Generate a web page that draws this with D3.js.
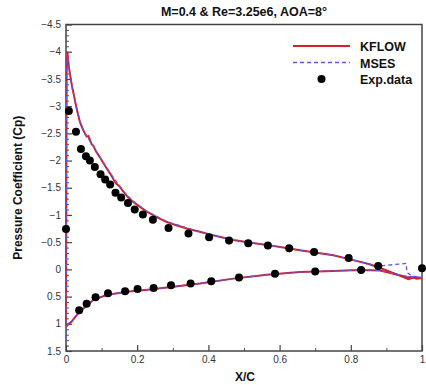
<!DOCTYPE html>
<html>
<head>
<meta charset="utf-8">
<script src="https://cdn.jsdelivr.net/npm/d3@7"></script>
<style>
  body { margin: 0; background: #fff; }
  svg { font-family: "Liberation Sans", Arial, sans-serif; }
</style>
</head>
<body>
<div id="chart"></div>
<script>
// KFLOW upper surface [x/c, Cp]
const kflowUpper = [
    [0, 1.0], [0.0005, 0], [0.001, -1.5], [0.0015, -3.0], [0.002, -3.85], [0.004, -4.0],
    [0.008, -3.72], [0.016, -3.4], [0.03, -2.95], [0.039, -2.71], [0.047, -2.58],
    [0.053, -2.5], [0.058, -2.44], [0.063, -2.45], [0.072, -2.3], [0.077, -2.27],
    [0.085, -2.16], [0.096, -2.05], [0.11, -1.9], [0.124, -1.76], [0.14, -1.58],
    [0.15, -1.53], [0.161, -1.43], [0.175, -1.32], [0.189, -1.24], [0.21, -1.14],
    [0.227, -1.06], [0.255, -0.96], [0.283, -0.87], [0.31, -0.81], [0.339, -0.75],
    [0.376, -0.69], [0.404, -0.64], [0.47, -0.54], [0.52, -0.49], [0.564, -0.45],
    [0.61, -0.4], [0.657, -0.35], [0.70, -0.31], [0.751, -0.26], [0.807, -0.17],
    [0.85, -0.1], [0.877, -0.04], [0.92, 0.07], [0.962, 0.18], [0.975, 0.15],
    [0.985, 0.17], [1.0, 0.16]
];
// KFLOW lower surface
const kflowLower = [
    [0, 1.05], [0.005, 1.02], [0.016, 0.96], [0.03, 0.84], [0.049, 0.72], [0.077, 0.56],
    [0.114, 0.47], [0.17, 0.41], [0.236, 0.37], [0.301, 0.32], [0.376, 0.26],
    [0.47, 0.17], [0.564, 0.1], [0.657, 0.05], [0.75, 0.03], [0.826, 0.01],
    [0.882, 0.02], [0.92, 0.08], [0.957, 0.14], [1.0, 0.16]
];
// MSES upper surface
const msesUpper = [
    [0, 1.0], [0.0005, 0], [0.001, -1.5], [0.0015, -3.0], [0.002, -3.8], [0.004, -3.95],
    [0.008, -3.7], [0.016, -3.38], [0.03, -2.95], [0.039, -2.72], [0.053, -2.5],
    [0.072, -2.31], [0.096, -2.06], [0.124, -1.77], [0.161, -1.44], [0.189, -1.25],
    [0.227, -1.07], [0.283, -0.88], [0.339, -0.76], [0.404, -0.64], [0.47, -0.54],
    [0.564, -0.45], [0.657, -0.35], [0.751, -0.26], [0.807, -0.17], [0.877, -0.06],
    [0.956, -0.11], [0.957, 0.05], [0.97, 0.12], [1.0, 0.15]
];
// MSES lower surface
const msesLower = [
    [0, 1.3], [0.001, 1.1], [0.005, 1.0], [0.016, 0.95], [0.03, 0.84], [0.049, 0.72],
    [0.077, 0.56], [0.114, 0.47], [0.17, 0.41], [0.236, 0.37], [0.301, 0.32],
    [0.376, 0.26], [0.47, 0.17], [0.564, 0.1], [0.657, 0.05], [0.75, 0.03],
    [0.826, 0.01], [0.882, 0.02], [0.92, 0.08], [0.957, 0.13], [1.0, 0.15]
];
// experimental data
const expUpper = [
    [0, -0.74], [0.008, -2.91], [0.028, -2.53], [0.042, -2.21], [0.056, -2.08],
    [0.067, -2.0], [0.081, -1.88], [0.097, -1.75], [0.11, -1.65], [0.124, -1.56],
    [0.139, -1.41], [0.155, -1.32], [0.174, -1.22], [0.193, -1.1], [0.216, -1.01],
    [0.244, -0.91], [0.288, -0.76], [0.344, -0.66], [0.402, -0.59], [0.458, -0.53],
    [0.512, -0.48], [0.567, -0.44], [0.627, -0.39], [0.697, -0.32], [0.794, -0.21],
    [0.877, -0.06], [1.0, -0.02]
];
const expLower = [
    [0.037, 0.75], [0.058, 0.63], [0.083, 0.51], [0.118, 0.44], [0.166, 0.40],
    [0.201, 0.36], [0.246, 0.34], [0.295, 0.29], [0.35, 0.26], [0.408, 0.22],
    [0.486, 0.15], [0.587, 0.08], [0.70, 0.04], [0.829, 0.01]
];
const xTicks = [0, 0.2, 0.4, 0.6, 0.8, 1];
const yTicks = [-4.5, -4, -3.5, -3, -2.5, -2, -1.5, -1, -0.5, 0, 0.5, 1, 1.5];

const width = 426, height = 385;
const margin = { left: 66, right: 4, top: 24.5, bottom: 34 };
const x0 = margin.left, x1 = width - margin.right;
const y0 = margin.top, y1 = height - margin.bottom;

const red = "#d3202a", blue = "#5a5ae6";

const svg = d3.select("#chart").append("svg")
    .attr("width", width)
    .attr("height", height);

const x = d3.scaleLinear().domain([0, 1]).range([x0, x1]);
const y = d3.scaleLinear().domain([-4.5, 1.5]).range([y0, y1]);

// minor ticks
const xMinor = d3.range(0.1, 1, 0.2);
const yMinor = d3.range(-4.4, 1.5, 0.1).filter(v => Math.abs(v * 2 - Math.round(v * 2)) > 0.01);

svg.append("g")
    .attr("transform", `translate(0,${y1})`)
    .call(d3.axisBottom(x).tickValues(xMinor).tickSize(-3).tickFormat(""))
    .call(g => g.select(".domain").remove())
    .selectAll("line").attr("stroke", "#555");
svg.append("g")
    .attr("transform", `translate(${x0},0)`)
    .call(d3.axisLeft(y).tickValues(yMinor).tickSize(-3).tickFormat(""))
    .call(g => g.select(".domain").remove())
    .selectAll("line").attr("stroke", "#555");

// major axes
const xAxis = svg.append("g")
    .attr("transform", `translate(0,${y1})`)
    .call(d3.axisBottom(x).tickValues(xTicks).tickSize(-6).tickPadding(5).tickFormat(d3.format("")));
const yAxis = svg.append("g")
    .attr("transform", `translate(${x0},0)`)
    .call(d3.axisLeft(y).tickValues(yTicks).tickSize(-6).tickPadding(5).tickFormat(d3.format("")));

[xAxis, yAxis].forEach(g => {
    g.select(".domain").remove();
    g.selectAll("line").attr("stroke", "#444").attr("stroke-width", 1.2);
    g.selectAll("text")
        .attr("font-family", "'Liberation Sans', Arial, sans-serif")
        .attr("font-size", 10)
        .attr("fill", "#333");
});

// frame
svg.append("rect")
    .attr("x", x0).attr("y", y0)
    .attr("width", x1 - x0).attr("height", y1 - y0)
    .attr("fill", "none")
    .attr("stroke", "#444")
    .attr("stroke-width", 1.5);

const line = d3.line().x(d => x(d[0])).y(d => y(d[1]));

[kflowUpper, kflowLower].forEach(s => {
    svg.append("path")
        .attr("d", line(s))
        .attr("fill", "none")
        .attr("stroke", red)
        .attr("stroke-width", 2);
});
[msesUpper, msesLower].forEach(s => {
    svg.append("path")
        .attr("d", line(s))
        .attr("fill", "none")
        .attr("stroke", blue)
        .attr("stroke-width", 1.3)
        .attr("stroke-dasharray", "4,3");
});

svg.append("g")
    .selectAll("circle")
    .data(expUpper.concat(expLower))
    .enter().append("circle")
    .attr("cx", d => x(d[0]))
    .attr("cy", d => y(d[1]))
    .attr("r", 4)
    .attr("fill", "#000");

// legend
const legend = svg.append("g").attr("font-weight", "bold").attr("font-size", 12.5);
legend.append("line")
    .attr("x1", 293).attr("x2", 350).attr("y1", 46).attr("y2", 46)
    .attr("stroke", red).attr("stroke-width", 2.2);
legend.append("line")
    .attr("x1", 293).attr("x2", 350).attr("y1", 62.5).attr("y2", 62.5)
    .attr("stroke", blue).attr("stroke-width", 1.3).attr("stroke-dasharray", "4,3");
legend.append("circle")
    .attr("cx", 321.5).attr("cy", 79).attr("r", 4).attr("fill", "#000");
[["KFLOW", 46.5], ["MSES", 63], ["Exp.data", 79.5]].forEach(([t, yy]) => {
    legend.append("text")
        .attr("x", 360).attr("y", yy)
        .attr("dy", "0.36em")
        .attr("fill", "#111")
        .text(t);
});

// title and labels
svg.append("text")
    .attr("x", (x0 + x1) / 2).attr("y", 16)
    .attr("text-anchor", "middle")
    .attr("font-weight", "bold")
    .attr("font-size", 12.5)
    .attr("fill", "#111")
    .text("M=0.4 & Re=3.25e6, AOA=8°");

svg.append("text")
    .attr("transform", `translate(22,${(y0 + y1) / 2}) rotate(-90)`)
    .attr("text-anchor", "middle")
    .attr("font-weight", "bold")
    .attr("font-size", 12)
    .attr("fill", "#111")
    .text("Pressure Coefficient (Cp)");

svg.append("text")
    .attr("x", 245).attr("y", 381)
    .attr("text-anchor", "middle")
    .attr("font-weight", "bold")
    .attr("font-size", 12)
    .attr("fill", "#111")
    .text("X/C");
</script>
</body>
</html>
